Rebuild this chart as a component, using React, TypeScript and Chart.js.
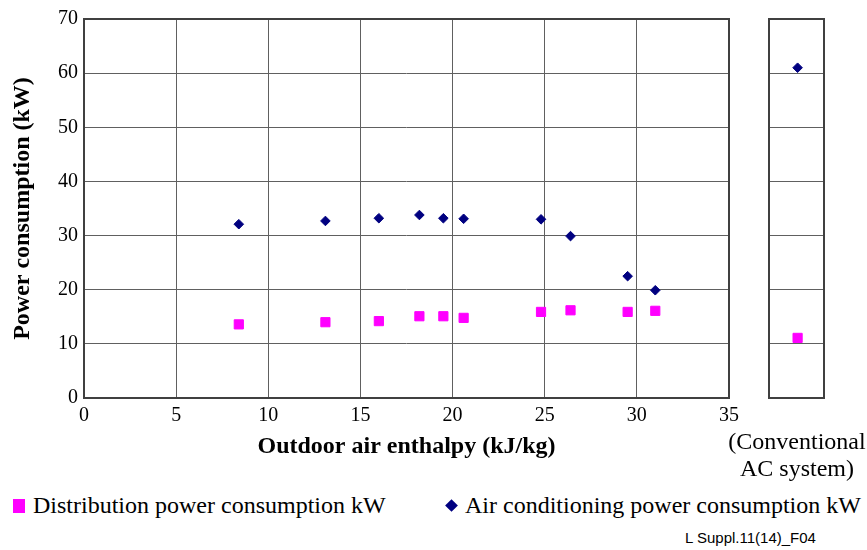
import React, { useEffect, useRef } from 'react';
import { Chart, registerables } from 'chart.js';

Chart.register(...registerables);

// ---- data ----
const enthalpy = [8.4, 13.1, 16.0, 18.2, 19.5, 20.6, 24.8, 26.4, 29.5, 31.0];
const distributionKW = [13.6, 14.0, 14.2, 15.1, 15.1, 14.8, 15.9, 16.2, 15.9, 16.1];
const airConditioningKW = [32.1, 32.7, 33.2, 33.8, 33.2, 33.1, 33.0, 29.9, 22.5, 19.9];
const conventionalDistributionKW = [11.1];
const conventionalAirConditioningKW = [61.0];
const conventionalX = [0.52];

const seriesNames = ['Distribution power consumption kW', 'Air conditioning power consumption kW'];
const xTitle = 'Outdoor air enthalpy (kJ/kg)';
const yTitle = 'Power consumption (kW)';
const conventionalTitle = ['(Conventional', 'AC system)'];
const figureId = 'L Suppl.11(14)_F04';

const MAGENTA = '#FF00FF';
const NAVY = '#000080';
const GRID = '#606060';
const SERIF = '"Liberation Serif", "Times New Roman", serif';

const framePlugin = {
  id: 'frame',
  beforeDatasetsDraw(chart: any) {
    const { ctx, chartArea } = chart;
    const { left, top, right, bottom } = chartArea;
    ctx.save();
    ctx.strokeStyle = '#404040';
    ctx.lineWidth = 2;
    ctx.strokeRect(Math.round(left), Math.round(top), Math.round(right) - Math.round(left), Math.round(bottom) - Math.round(top));
    ctx.restore();
  },
};

export default function App() {
  const mainRef = useRef<HTMLCanvasElement>(null);
  const sideRef = useRef<HTMLCanvasElement>(null);

  useEffect(() => {
    const main = new Chart(mainRef.current!, {
      type: 'scatter',
      data: {
        datasets: [
          {
            label: seriesNames[0],
            data: enthalpy.map((x, i) => ({ x, y: distributionKW[i] })),
            pointStyle: 'rect',
            pointRadius: 6.5,
            backgroundColor: MAGENTA,
            borderColor: MAGENTA,
            borderWidth: 1,
          },
          {
            label: seriesNames[1],
            data: enthalpy.map((x, i) => ({ x, y: airConditioningKW[i] })),
            pointStyle: 'rectRot',
            pointRadius: 4.8,
            backgroundColor: NAVY,
            borderColor: NAVY,
            borderWidth: 1,
          },
        ],
      },
      options: {
        responsive: false,
        animation: false,
        events: [],
        layout: { padding: { left: 0, top: 19, right: 21, bottom: 0 } },
        plugins: { legend: { display: false }, tooltip: { enabled: false } },
        scales: {
          x: {
            type: 'linear',
            min: 0,
            max: 35,
            ticks: { stepSize: 5, color: '#000', padding: 6, font: { family: SERIF, size: 20 } },
            grid: { color: GRID, lineWidth: 1, drawTicks: false },
            border: { display: false },
            title: {
              display: true,
              text: xTitle,
              color: '#000',
              font: { family: SERIF, size: 24, weight: 'bold' },
              padding: { top: 0, bottom: 9 },
            },
            afterFit(scale: any) {
              scale.height = 72;
            },
          },
          y: {
            type: 'linear',
            min: 0,
            max: 70,
            ticks: { stepSize: 10, color: '#000', padding: 6, font: { family: SERIF, size: 20 } },
            grid: { color: GRID, lineWidth: 1, drawTicks: false },
            border: { display: false },
            title: {
              display: true,
              text: yTitle,
              color: '#000',
              font: { family: SERIF, size: 24, weight: 'bold' },
              padding: { top: 8, bottom: 0 },
            },
            afterFit(scale: any) {
              scale.width = 84;
            },
          },
        },
      },
      plugins: [framePlugin],
    });

    const side = new Chart(sideRef.current!, {
      type: 'scatter',
      data: {
        datasets: [
          {
            label: seriesNames[0],
            data: conventionalX.map((x, i) => ({ x, y: conventionalDistributionKW[i] })),
            pointStyle: 'rect',
            pointRadius: 6.5,
            backgroundColor: MAGENTA,
            borderColor: MAGENTA,
            borderWidth: 1,
          },
          {
            label: seriesNames[1],
            data: conventionalX.map((x, i) => ({ x, y: conventionalAirConditioningKW[i] })),
            pointStyle: 'rectRot',
            pointRadius: 4.8,
            backgroundColor: NAVY,
            borderColor: NAVY,
            borderWidth: 1,
          },
        ],
      },
      options: {
        responsive: false,
        animation: false,
        events: [],
        layout: { padding: { left: 19, top: 19, right: 26, bottom: 72 } },
        plugins: { legend: { display: false }, tooltip: { enabled: false } },
        scales: {
          x: {
            type: 'linear',
            min: 0,
            max: 1,
            display: false,
          },
          y: {
            type: 'linear',
            min: 0,
            max: 70,
            ticks: { stepSize: 10, display: false },
            grid: { color: GRID, lineWidth: 1, drawTicks: false },
            border: { display: false },
            afterFit(scale: any) {
              scale.width = 0;
            },
          },
        },
      },
      plugins: [framePlugin],
    });

    return () => {
      main.destroy();
      side.destroy();
    };
  }, []);

  const legendText: React.CSSProperties = {
    position: 'absolute',
    top: 493,
    fontFamily: SERIF,
    fontSize: 24,
    lineHeight: '24px',
    color: '#000',
    whiteSpace: 'nowrap',
  };

  return (
    <div style={{ position: 'absolute', left: 0, top: 0, width: 867, height: 550, background: '#fff', overflow: 'hidden' }}>
      <canvas ref={mainRef} width={750} height={470} style={{ position: 'absolute', left: 0, top: 0 }} />
      <canvas ref={sideRef} width={100} height={470} style={{ position: 'absolute', left: 750, top: 0 }} />
      <div
        style={{
          position: 'absolute',
          left: 716,
          top: 428,
          width: 162,
          textAlign: 'center',
          fontFamily: SERIF,
          fontSize: 24,
          lineHeight: '27px',
          color: '#000',
          whiteSpace: 'nowrap',
        }}
      >
        {conventionalTitle[0]}
        <br />
        {conventionalTitle[1]}
      </div>
      <div style={{ position: 'absolute', left: 13, top: 499, width: 12, height: 14, background: MAGENTA }} />
      <div style={{ ...legendText, left: 33 }}>{seriesNames[0]}</div>
      <div
        style={{
          position: 'absolute',
          left: 447,
          top: 501,
          width: 9,
          height: 9,
          background: NAVY,
          transform: 'rotate(45deg)',
        }}
      />
      <div style={{ ...legendText, left: 465 }}>{seriesNames[1]}</div>
      <div
        style={{
          position: 'absolute',
          left: 685,
          top: 530,
          fontFamily: '"Liberation Sans", Arial, sans-serif',
          fontSize: 15,
          lineHeight: '15px',
          color: '#000',
          whiteSpace: 'nowrap',
        }}
      >
        {figureId}
      </div>
    </div>
  );
}
